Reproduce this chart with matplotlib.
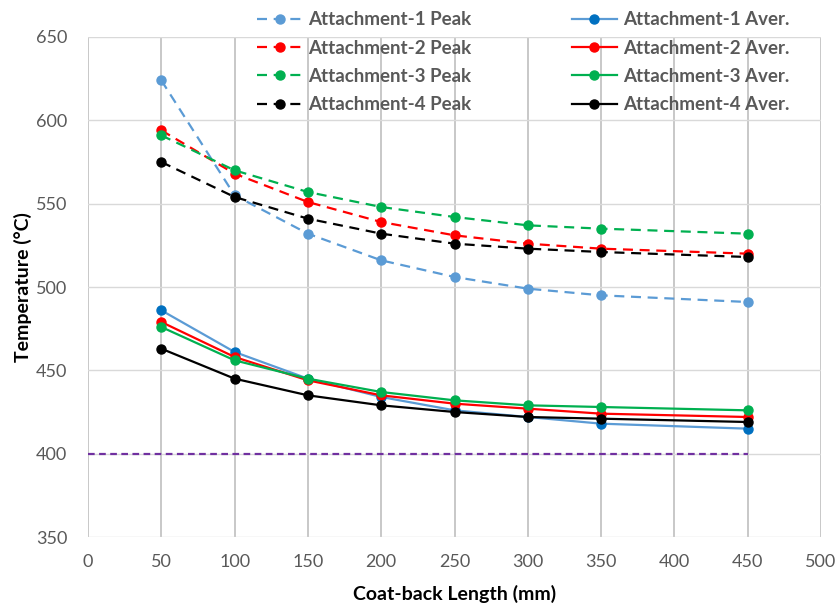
import matplotlib.pyplot as plt

length = [50, 100, 150, 200, 250, 300, 350, 450]

peak_1 = [624, 555, 532, 516, 506, 499, 495, 491]
peak_2 = [594, 568, 551, 539, 531, 526, 523, 520]
peak_3 = [591, 570, 557, 548, 542, 537, 535, 532]
peak_4 = [575, 554, 541, 532, 526, 523, 521, 518]

aver_1 = [486, 461, 445, 434, 426, 422, 418, 415]
aver_2 = [479, 458, 444, 435, 430, 427, 424, 422]
aver_3 = [476, 456, 445, 437, 432, 429, 428, 426]
aver_4 = [463, 445, 435, 429, 425, 422, 421, 419]

limit_x = [0, 450]
limit_y = [400, 400]

plt.rcParams['font.family'] = ['Lato', 'DejaVu Sans']

fig = plt.figure(figsize=(8.35, 6.04), dpi=100)
ax = fig.add_axes([88/835, 1-537/604, (821-88)/835, (537-37)/604])

peaks = [peak_1, peak_2, peak_3, peak_4]
avers = [aver_1, aver_2, aver_3, aver_4]
line_cols = ['#5b9bd5', '#ff0000', '#00b050', '#000000']
mark_cols = ['#0070c0', '#ff0000', '#00b050', '#000000']

handles = []
for i in range(4):
	h, = ax.plot(length, peaks[i], color=line_cols[i], lw=1.6, dashes=(4.5, 3),
			marker='o', ms=6.5, label='Attachment-%d Peak' % (i+1), zorder=3)
	handles.append(h)
for i in range(4):
	h, = ax.plot(length, avers[i], color=line_cols[i], lw=1.6,
			marker='o', ms=6.5, mfc=mark_cols[i], mec=mark_cols[i],
			label='Attachment-%d Aver.' % (i+1), zorder=3)
	handles.append(h)

ax.plot(limit_x, limit_y, color='#7030a0', lw=1.6, dashes=(3, 2), zorder=2)

ax.set_xlim(0, 500)
ax.set_ylim(350, 650)
ax.set_xticks(range(0, 501, 50))
ax.set_yticks(range(350, 651, 50))
ax.grid(axis='x', color='#bfbfbf', lw=1.2)
ax.grid(axis='y', color='#d9d9d9', lw=1.0)
ax.set_axisbelow(True)
for s in ax.spines.values():
	s.set_visible(False)
ax.tick_params(length=0, labelsize=13, labelcolor='#595959')
ax.tick_params(axis='y', pad=15)
ax.tick_params(axis='x', pad=12)

ax.set_xlabel('Coat-back Length (mm)', fontsize=14, fontweight='bold', labelpad=11)
ax.set_ylabel('Temperature (°C)', fontsize=14, fontweight='bold', labelpad=3)

leg = fig.legend(handles=handles, ncol=2, loc='upper left',
		bbox_to_anchor=(248/835, 1-2/604), frameon=False,
		prop={'weight': 'bold', 'size': 13.5}, handlelength=2.4,
		labelspacing=0.6, columnspacing=5.35, handletextpad=0.32, borderpad=0)
for t in leg.get_texts():
	t.set_color('#595959')

fig.savefig('out.png')
